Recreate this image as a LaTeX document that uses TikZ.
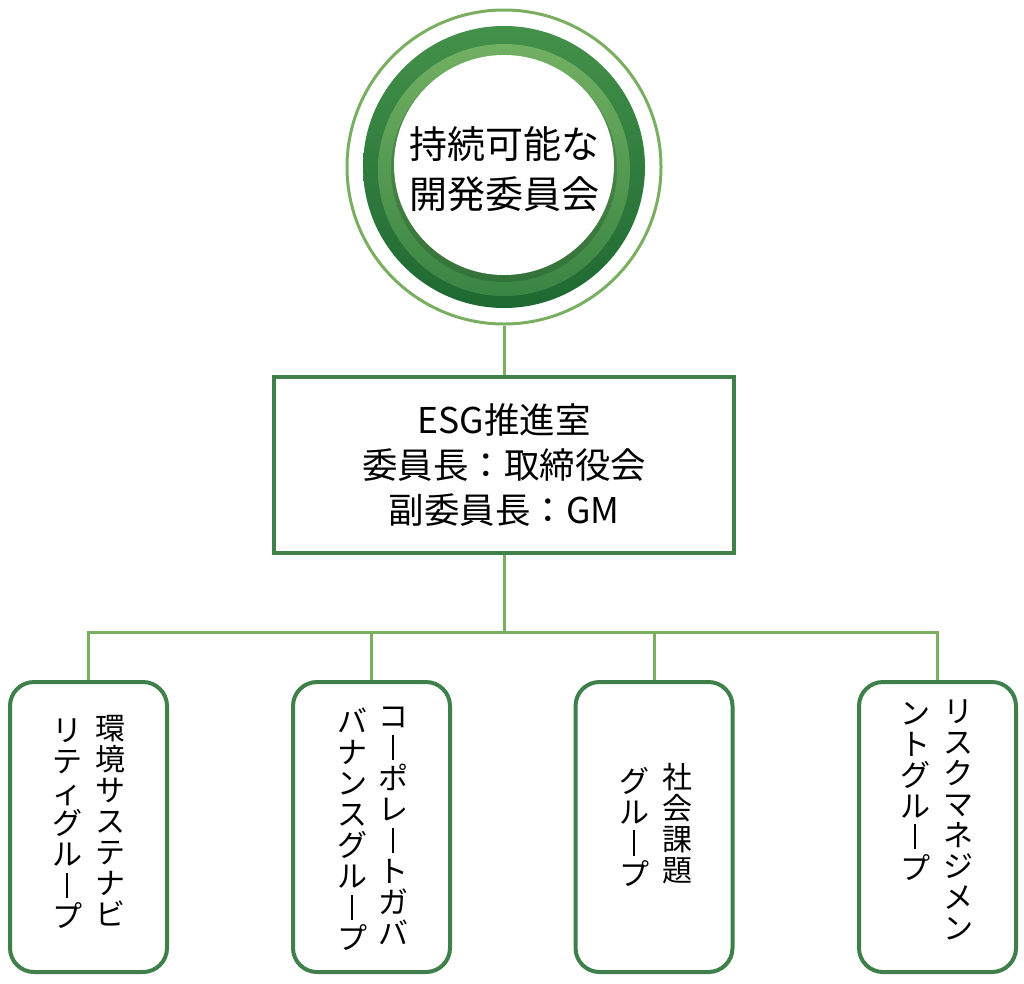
\documentclass[tikz,border=0pt]{standalone}
\usepackage{fontspec}
\setmainfont{Noto Sans CJK JP}
\definecolor{lineGreen}{HTML}{7AAF62}
\definecolor{boxGreen}{HTML}{3E7F4A}
\definecolor{ringDark}{HTML}{1E6832}
\definecolor{ringMid}{HTML}{44914A}
\definecolor{ringLight}{HTML}{72B062}
% vertical long-vowel mark for vertical text
\newcommand{\chouon}{\rule[-0.04em]{0.075em}{0.84em}}
\tikzset{
  conn/.style={draw=lineGreen, line width=3pt},
  grp/.style={rectangle, rounded corners=24pt, draw=boxGreen, line width=4pt,
    minimum width=157pt, minimum height=290pt, fill=white},
  vcol/.style={inner sep=0pt, align=center, anchor=north, text=black,
    font={\fontsize{30pt}{31pt}\selectfont\lineskiplimit-100pt\relax}},
}
\begin{document}
\begin{tikzpicture}[x=1pt,y=-1pt]
\useasboundingbox (0,0) rectangle (1024,983);
\fill[white] (0,0) rectangle (1024,983);

% top committee circle
\node[circle, draw=lineGreen, line width=3pt, minimum size=314pt, inner sep=0pt] (circ) at (504,167) {};
\shade[top color=ringMid, bottom color=ringDark] (504,167) circle (141pt);
\shade[top color=ringLight, bottom color=ringMid!70!ringDark] (504,170) circle (126pt);
\fill[black, opacity=0.15] (504,169) circle (113pt);
\fill[white] (504,165) circle (110pt);
\node[align=center, inner sep=0pt, font=\fontsize{38pt}{50pt}\selectfont] (title) at (504,169) {持続可能な\\開発委員会};

% ESG office
\node[rectangle, draw=boxGreen, line width=4pt, minimum width=460pt, minimum height=176pt,
  align=center, font=\fontsize{35.5pt}{45pt}\selectfont] (esg) at (504,465)
  {ESG推進室\\委員長：取締役会\\副委員長：GM};

% groups
\node[grp] (g1) at (88.5,827) {};
\node[grp] (g2) at (371.5,827) {};
\node[grp] (g3) at (654,827) {};
\node[grp] (g4) at (937.5,827) {};

% connectors
\coordinate (bus) at (504,632);
\draw[conn] (circ.south) -- (esg.north);
\draw[conn] (esg.south) -- (bus);
\draw[conn] (g1.north) -- (g1.north |- bus) -- (g4.north |- bus) -- (g4.north);
\draw[conn] (g2.north) -- (g2.north |- bus);
\draw[conn] (g3.north) -- (g3.north |- bus);

% vertical texts
\node[vcol] (g1r) at (110,715) {環\\境\\サ\\ス\\テ\\ナ\\ビ};
\node[vcol] (g1l) at (67,719) {リ\\テ\\ィ\\グ\\ル\\\chouon\\プ};

\node[vcol] (g2r) at (393,707) {コ\\\chouon\\ポ\\レ\\\chouon\\ト\\ガ\\バ};
\node[vcol] (g2l) at (352,708) {バ\\ナ\\ン\\ス\\グ\\ル\\\chouon\\プ};

\node[vcol] (g3r) at (677,763) {社\\会\\課\\題};
\node[vcol] (g3l) at (634,767) {グ\\ル\\\chouon\\プ};

\node[vcol] (g4r) at (958,700) {リ\\ス\\ク\\マ\\ネ\\ジ\\メ\\ン};
\node[vcol] (g4l) at (915,702) {ン\\ト\\グ\\ル\\\chouon\\プ};
\end{tikzpicture}
\end{document}
